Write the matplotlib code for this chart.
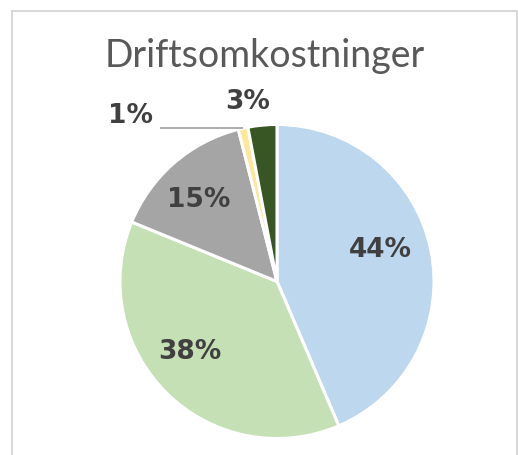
import matplotlib
matplotlib.use("Agg")
import matplotlib.pyplot as plt
from matplotlib.patches import Rectangle
import numpy as np

title = "Driftsomkostninger"
values = [44, 38, 15, 1, 3]
labels = ["44%", "38%", "15%", "1%", "3%"]
colors = ["#BDD7EE", "#C5E0B4", "#A5A5A5", "#FFE699", "#375623"]

W, H = 518, 455
fig = plt.figure(figsize=(W / 100, H / 100), dpi=100)
fig.patch.set_facecolor("white")

# chart border
fig.patches.append(Rectangle((12 / W, -0.05), (517 - 12) / W, (H - 11) / H + 0.05,
                             transform=fig.transFigure, fill=False,
                             edgecolor="#D9D9D9", lw=1.5))

R = 157.0
cx, cy = 277.0, H - 281.5
half = 170.0
ax = fig.add_axes([(cx - half) / W, (cy - half) / H, 2 * half / W, 2 * half / H])
lim = half / R
ax.axis("off")

wedges, _ = ax.pie(values, colors=colors, startangle=90, counterclock=False,
                   radius=1.0, wedgeprops=dict(edgecolor="white", linewidth=2.2))
ax.set_xlim(-lim, lim)
ax.set_ylim(-lim, lim)
ax.set_aspect("equal")

label_pos = [(0.656, 0.201), (-0.554, -0.449), (-0.497, 0.519), (-0.930, 1.054), (-0.185, 1.143)]
lab_color = "#404040"
for lab, (x, y) in zip(labels, label_pos):
    ax.text(x, y, lab, ha="center", va="center", fontsize=19, fontweight="bold",
            color=lab_color, family=["DejaVu Sans"])

# leader line for the small slice
w = wedges[3]
mid = np.deg2rad((w.theta1 + w.theta2) / 2)
ex, ey = np.cos(mid), np.sin(mid)
ax.plot([-0.745, ex], [ey, ey], color="#A6A6A6", lw=1.3, solid_capstyle="butt")

fig.text(265 / W, 1 - 67 / H, title, ha="center", va="baseline", fontsize=27,
         color="#595959", family=["Lato", "DejaVu Sans"], fontweight="normal")

fig.savefig("out.png", dpi=100)
